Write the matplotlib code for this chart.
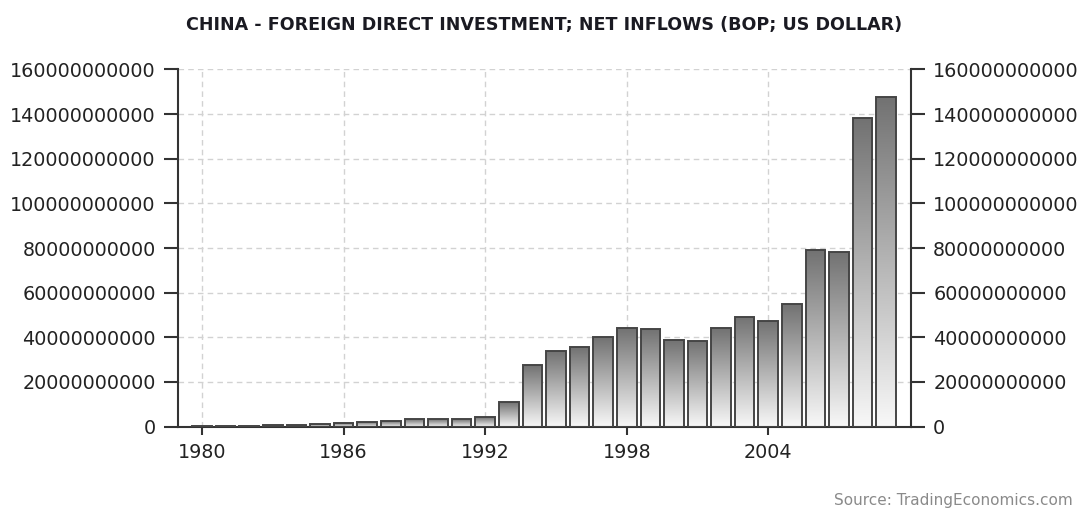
import numpy as np
import matplotlib.pyplot as plt
from matplotlib.colors import LinearSegmentedColormap
from matplotlib.ticker import FuncFormatter

# Data (billions of US dollars)
years = list(range(1980, 2010))
fdi_bn = [0.3, 0.3, 0.4, 0.5, 0.7, 1.26, 1.66, 1.88, 2.31, 3.19,
          3.39, 3.49, 4.37, 11.16, 27.5, 33.8, 35.8, 40.2, 44.2, 43.8,
          38.8, 38.4, 44.2, 49.3, 47.1, 54.9, 79.1, 78.1, 138.4, 147.8]
tick_years = [1980, 1986, 1992, 1998, 2004]
y_ticks = [0, 20e9, 40e9, 60e9, 80e9, 100e9, 120e9, 140e9, 160e9]

title = 'CHINA - FOREIGN DIRECT INVESTMENT; NET INFLOWS (BOP; US DOLLAR)'
source = 'Source: TradingEconomics.com'

fig = plt.figure(figsize=(10.78, 5.14), dpi=100)
ax = fig.add_axes([0.1651, 0.1702, 0.6800, 0.6946])

values = np.array(fdi_bn) * 1e9
bars = ax.bar(years, values, width=0.83, color='none', edgecolor='#454545',
              linewidth=1.4, zorder=3)

# vertical grey gradient inside every bar (dark top, light bottom)
grad = np.linspace(0, 1, 256).reshape(-1, 1)
cmap = LinearSegmentedColormap.from_list('bar_grad', ['#f8f8f8', '#727272'])
for b in bars:
    x0, w, h = b.get_x(), b.get_width(), b.get_height()
    im = ax.imshow(grad, cmap=cmap, extent=[x0, x0 + w, 0, h], origin='lower',
                   aspect='auto', zorder=2, interpolation='bilinear')
    im.set_clip_path(b)

ax.set_xlim(1978.98, 2010.05)
ax.set_ylim(0, 160e9)
ax.set_xticks(tick_years)
ax.set_yticks(y_ticks)
ax.yaxis.set_major_formatter(FuncFormatter(lambda v, p: f'{int(round(v))}'))

ax.grid(True, linestyle=(0, (4, 3)), color='#d2d2d2', linewidth=1)
ax.set_axisbelow(True)

for s in ['left', 'right', 'bottom']:
    ax.spines[s].set_color('#333333')
    ax.spines[s].set_linewidth(1.5)
ax.spines['top'].set_visible(False)

ax.tick_params(axis='y', which='both', direction='out', length=10, width=1.5,
               color='#333333', labelsize=13.8, labelcolor='#222222',
               left=True, right=True, labelleft=True, labelright=True, pad=6)
ax.tick_params(axis='x', direction='out', length=6, width=1.5, color='#333333',
               labelsize=13.8, labelcolor='#222222', pad=6)

fig.text(0.505, 0.952, title, ha='center', va='center', fontsize=12.6,
         fontweight='bold', color='#1a1a22')
fig.text(0.995, 0.012, source, ha='right', va='bottom', fontsize=11,
         color='#8a8a8a')

fig.savefig('out.png', dpi=100)
